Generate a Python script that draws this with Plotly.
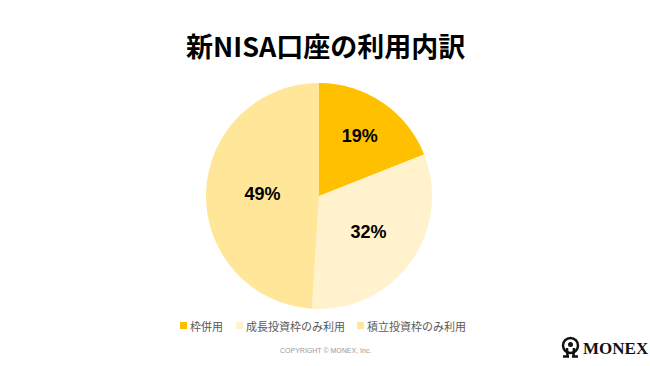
import plotly.graph_objects as go

labels = ["枠併用", "成長投資枠のみ利用", "積立投資枠のみ利用"]
values = [19, 32, 49]
colors = ["#FFC000", "#FFF2CC", "#FFE699"]
title_text = "新NISA口座の利用内訳"
copyright_text = "COPYRIGHT © MONEX, Inc."

W, H = 650, 366

def px(x):
    return x / W

def py(y):
    return 1 - y / H

fig = go.Figure(go.Pie(
    labels=labels,
    values=values,
    marker=dict(colors=colors, line=dict(width=0)),
    sort=False,
    direction="clockwise",
    rotation=0,
    texttemplate="<b>%{percent:.0%}</b>",
    textposition="inside",
    insidetextorientation="horizontal",
    textfont=dict(family="Liberation Sans, Arial", size=18, color="#000000"),
    domain=dict(x=[px(206), px(432)], y=[py(309), py(83)]),
    hoverinfo="label+percent",
    showlegend=False,
))

annotations = [
    dict(text="<b>" + title_text + "</b>", x=0.5, y=py(45),
         xref="paper", yref="paper", showarrow=False,
         font=dict(family="Noto Sans CJK JP", size=27, color="#000000"),
         xanchor="center", yanchor="middle"),
    dict(text=copyright_text, x=px(325), y=py(350),
         xref="paper", yref="paper", showarrow=False,
         font=dict(family="Liberation Sans, Arial", size=7, color="#9a9a9a"),
         xanchor="center", yanchor="middle"),
    dict(text="<b>MONEX</b>", x=px(581), y=py(348),
         xref="paper", yref="paper", showarrow=False,
         font=dict(family="Liberation Serif, serif", size=17, color="#111111"),
         xanchor="left", yanchor="middle"),
]
shapes = []

# manual legend (layout positions)
legend_x = [180, 236, 357]
for lab, col, lx in zip(labels, colors, legend_x):
    shapes.append(dict(type="rect", xref="paper", yref="paper",
                       x0=px(lx), x1=px(lx + 7), y0=py(329), y1=py(322),
                       fillcolor=col, line=dict(width=0)))
    annotations.append(dict(text=lab, x=px(lx + 8), y=py(325.5),
                            xref="paper", yref="paper", showarrow=False,
                            font=dict(family="Noto Sans CJK JP", size=11, color="#595959"),
                            xanchor="left", yanchor="middle"))

# logo glyph
shapes += [
    dict(type="circle", xref="paper", yref="paper",
         x0=px(563), x1=px(578), y0=py(353), y1=py(338),
         line=dict(color="#111111", width=2.5)),
    dict(type="path", xref="paper", yref="paper",
         path=(f"M {px(567)} {py(348)} L {px(567.5)} {py(356)} "
               f"M {px(574)} {py(348)} L {px(573.5)} {py(356)} "
               f"M {px(563)} {py(356.5)} L {px(569)} {py(356.5)} "
               f"M {px(572)} {py(356.5)} L {px(578)} {py(356.5)}"),
         line=dict(color="#111111", width=2.5)),
    dict(type="circle", xref="paper", yref="paper",
         x0=px(568), x1=px(573), y0=py(347), y1=py(342),
         fillcolor="#111111", line=dict(width=0)),
]

fig.update_layout(
    width=W, height=H,
    margin=dict(l=0, r=0, t=0, b=0),
    paper_bgcolor="white",
    plot_bgcolor="white",
    annotations=annotations,
    shapes=shapes,
)

fig.write_html("out.html",
               config={"displayModeBar": False},
               post_script="document.body.style.margin='0';document.body.style.padding='0';")
